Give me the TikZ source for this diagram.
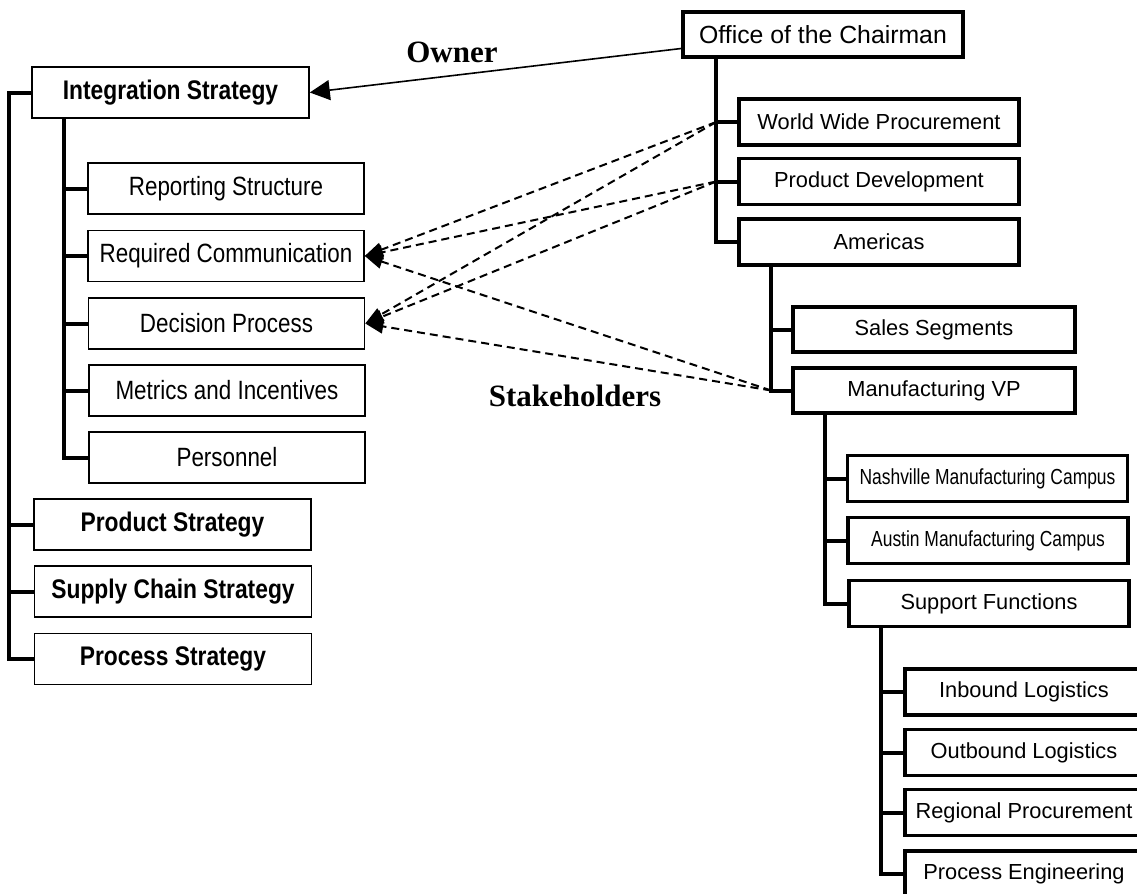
\documentclass[tikz,border=0pt]{standalone}
\usepackage{fontspec}
\usepackage{graphicx}
\setmainfont{Liberation Sans}
\newfontfamily\tagfont{Liberation Serif}
\usepackage{tikz}
\usetikzlibrary{arrows.meta}

\newcommand{\tall}[1]{\scalebox{1}[1.18]{#1}}
\newcommand{\narrow}[1]{\scalebox{0.8}[1]{#1}}

\tikzset{
    sub/.style={draw, line width=0.8pt, minimum width=138pt, minimum height=25.5pt, inner sep=0pt,
        font=\fontsize{11.2}{13}\selectfont},
    strat/.style={sub, minimum width=138.5pt, font=\bfseries\fontsize{11.4}{13}\selectfont},
    unit/.style={draw, line width=1.8pt, minimum width=140pt, minimum height=23pt, inner sep=0pt,
        font=\fontsize{10.9}{13}\selectfont},
    leaf/.style={unit, minimum width=119pt},
    trunk/.style={line width=2pt},
    owns/.style={line width=0.8pt, -{Triangle[length=10pt,width=10pt]}},
    link/.style={line width=1pt, dash pattern=on 4pt off 2.5pt, -{Triangle[length=9pt,width=7pt]}},
    tag/.style={font=\tagfont\bfseries\fontsize{15.5}{18}\selectfont, inner sep=0pt}
}

\begin{document}
\begin{tikzpicture}[x=0.5pt, y=-0.5pt]
    \fill[white] (0,0) rectangle (1137,894);
    \useasboundingbox (0,0) rectangle (1137,894);
    \clip (0,0) rectangle (1137,894);

    % strategy side
    \node[strat] (intstrat) at (170.5,92.5) {\tall{Integration Strategy}};
    \node[sub] (report) at (226,188.5) {\tall{Reporting Structure}};
    \node[sub] (reqcomm) at (226,256) {\tall{Required Communication}};
    \node[sub] (decision) at (226.5,323.5) {\tall{Decision Process}};
    \node[sub] (metrics) at (227,390.5) {\tall{Metrics and Incentives}};
    \node[sub] (personnel) at (227,457.5) {\tall{Personnel}};
    \node[strat] (prodstrat) at (172.5,524.5) {\tall{Product Strategy}};
    \node[strat] (supply) at (173,591.5) {\tall{Supply Chain Strategy}};
    \node[strat] (procstrat) at (173,659) {\tall{Process Strategy}};

    \draw[trunk] (intstrat.west) -- ++(-22,0) coordinate (lt) |- (procstrat.west);
    \foreach \n in {prodstrat,supply}
        \draw[trunk] (\n.west) -- (\n.west -| lt);
    \draw[trunk] (intstrat.south west) ++(33,0) coordinate (it) |- (personnel.west);
    \foreach \n in {report,reqcomm,decision,metrics}
        \draw[trunk] (\n.west) -- (\n.west -| it);

    % organisation side
    \node[unit, font=\fontsize{12.4}{14}\selectfont, minimum height=22.5pt] (chair) at (823,34.5) {Office of the Chairman};
    \node[unit] (wwp) at (879,122) {World Wide Procurement};
    \node[unit] (proddev) at (879,181.5) {Product Development};
    \node[unit] (americas) at (879,242) {Americas};
    \node[unit, minimum width=141pt, minimum height=22.5pt] (sales) at (934,329.5) {Sales Segments};
    \node[unit, minimum width=141pt, minimum height=22.5pt] (mvp) at (934,390.5) {Manufacturing VP};
    \node[unit] (nash) at (987.5,478.5) {\narrow{Nashville Manufacturing Campus}};
    \node[unit] (austin) at (988,540.5) {\narrow{Austin Manufacturing Campus}};
    \node[unit] (support) at (989,603.5) {Support Functions};
    \node[leaf] (inbound) at (1024,692) {Inbound Logistics};
    \node[leaf] (outbound) at (1024,752.5) {Outbound Logistics};
    \node[leaf] (regional) at (1024,812.5) {Regional Procurement};
    \node[leaf] (proceng) at (1024,874) {Process Engineering};

    \draw[trunk] (chair.south west) ++(35,0) coordinate (ct) |- (americas.west);
    \foreach \n in {wwp,proddev}
        \draw[trunk] (\n.west) -- (\n.west -| ct);
    \draw[trunk] (americas.south west) ++(34,0) coordinate (at) |- (mvp.west);
    \draw[trunk] (sales.west) -- (sales.west -| at);
    \draw[trunk] (mvp.south west) ++(34,0) coordinate (mt) |- (support.west);
    \foreach \n in {nash,austin}
        \draw[trunk] (\n.west) -- (\n.west -| mt);
    \draw[trunk] (support.south west) ++(34,0) coordinate (st) |- (proceng.west);
    \foreach \n in {inbound,outbound,regional}
        \draw[trunk] (\n.west) -- (\n.west -| st);

    % owner and stakeholders
    \coordinate (chairin) at ([yshift=-7pt]chair.west);
    \draw[owns] (chairin) -- (intstrat.east);
    \node[tag] (owner) at (452,52.5) {Owner};

    \coordinate (jw) at (wwp.west -| ct);
    \coordinate (jp) at (proddev.west -| ct);
    \coordinate (jm) at (mvp.west -| at);
    \foreach \s in {jw,jp,jm}
        \foreach \t in {reqcomm,decision}
            \draw[link] (\s) -- (\t.east);
    \node[tag] (stake) at (575,396) {Stakeholders};
\end{tikzpicture}
\end{document}
